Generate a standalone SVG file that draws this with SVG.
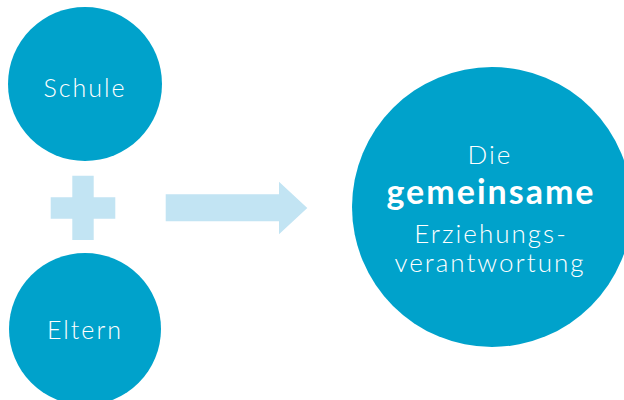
<svg xmlns="http://www.w3.org/2000/svg" width="624" height="400" viewBox="0 0 624 400">
<style>
.c{fill:#00A2CB}
.s{fill:#C2E4F3}
.t{font-family:Lato,"Liberation Sans",sans-serif;font-weight:300;fill:#fff;text-anchor:middle;letter-spacing:2px}
.b{font-weight:700}
</style>
<rect width="624" height="400" fill="#fff"/>
<g id="schule"><circle class="c" cx="85" cy="84" r="77"/><text class="t" x="85" y="97" font-size="25">Schule</text></g>
<g id="eltern"><circle class="c" cx="85" cy="329" r="76"/><text class="t" x="85" y="339" font-size="25">Eltern</text></g>
<g id="ziel"><circle class="c" cx="492" cy="207" r="140"/>
<text class="t" x="490" y="164" font-size="26" letter-spacing="1.5">Die</text>
<text class="t b" x="491" y="204" font-size="34">gemeinsame</text>
<text class="t" x="491" y="243" font-size="26" letter-spacing="1.7">Erziehungs-</text>
<text class="t" x="490" y="272" font-size="26" letter-spacing="3">verantwortung</text>
</g>
<g id="connectors">
<path class="s" d="M72.3 175.7H93.7V197.3H115.3V218.7H93.7V240H72.3V218.7H50.7V197.3H72.3Z"/>
<path class="s" d="M165.7 194.3H279V181.7L307.3 208L279 234.3V221.3H165.7Z"/>
</g>
</svg>
